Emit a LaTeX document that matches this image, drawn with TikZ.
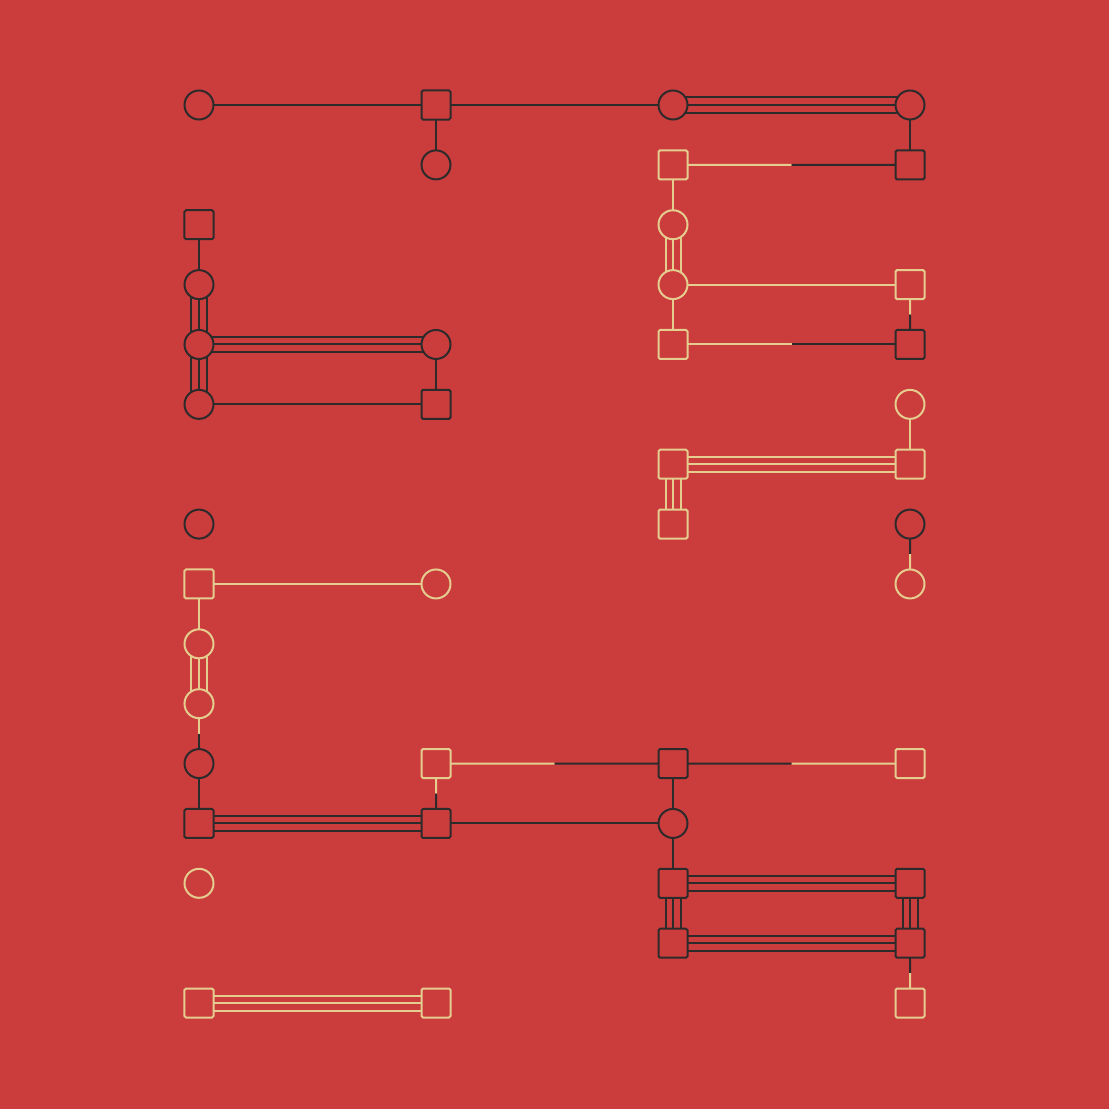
\documentclass[tikz,border=0pt]{standalone}
\usepackage{tikz}
\usetikzlibrary{calc}
\definecolor{bgred}{RGB}{203,61,61}
\definecolor{ink}{RGB}{45,42,43}
\definecolor{sand}{RGB}{229,204,143}
\pgfdeclarelayer{backdrop}
\pgfdeclarelayer{bonds}
\pgfsetlayers{backdrop,bonds,main}
\tikzset{
	dc/.style={circle,inner sep=0pt,minimum size=29bp,line width=2bp,draw=ink,fill=bgred,name=#1},
	sc/.style={circle,inner sep=0pt,minimum size=29bp,line width=2bp,draw=sand,fill=bgred,name=#1},
	ds/.style={rectangle,rounded corners=1.5bp,inner sep=0pt,minimum size=29bp,line width=2bp,draw=ink,fill=bgred,name=#1},
	ss/.style={rectangle,rounded corners=1.5bp,inner sep=0pt,minimum size=29bp,line width=2bp,draw=sand,fill=bgred,name=#1},
	dl/.style={draw=ink,line width=2bp},
	sl/.style={draw=sand,line width=2bp}
}
\newcommand{\mixbond}[4]{
	\draw [#1] (#3.center) -- ($(#3.center)!0.5!(#4.center)$);
	\draw [#2] ($(#3.center)!0.5!(#4.center)$) -- (#4.center);
}
\newcommand{\tribond}[3]{
	\draw [#1] (#2.center) -- (#3.center);
	\draw [#1] ($(#2.center)!7.5bp!90:(#3.center)$) -- ($(#3.center)!7.5bp!-90:(#2.center)$);
	\draw [#1] ($(#2.center)!7.5bp!-90:(#3.center)$) -- ($(#3.center)!7.5bp!90:(#2.center)$);
}
\begin{document}
\begin{tikzpicture}[x=237bp,y=-59.87bp]
	\begin{pgfonlayer}{backdrop}
		\fill [bgred] (-199bp,105bp) rectangle (910bp,-1004bp);
	\end{pgfonlayer}
	\useasboundingbox (-199bp,105bp) rectangle (910bp,-1004bp);

	\node [dc=a0] at (0,0) {};
	\node [ds=b0] at (1,0) {};
	\node [dc=c0] at (2,0) {};
	\node [dc=d0] at (3,0) {};
	\node [dc=b1] at (1,1) {};
	\node [ss=c1] at (2,1) {};
	\node [ds=d1] at (3,1) {};
	\node [ds=a2] at (0,2) {};
	\node [sc=c2] at (2,2) {};
	\node [dc=a3] at (0,3) {};
	\node [sc=c3] at (2,3) {};
	\node [ss=d3] at (3,3) {};
	\node [dc=a4] at (0,4) {};
	\node [dc=b4] at (1,4) {};
	\node [ss=c4] at (2,4) {};
	\node [ds=d4] at (3,4) {};
	\node [dc=a5] at (0,5) {};
	\node [ds=b5] at (1,5) {};
	\node [sc=d5] at (3,5) {};
	\node [ss=c6] at (2,6) {};
	\node [ss=d6] at (3,6) {};
	\node [dc=a7] at (0,7) {};
	\node [ss=c7] at (2,7) {};
	\node [dc=d7] at (3,7) {};
	\node [ss=a8] at (0,8) {};
	\node [sc=b8] at (1,8) {};
	\node [sc=d8] at (3,8) {};
	\node [sc=a9] at (0,9) {};
	\node [sc=a10] at (0,10) {};
	\node [dc=a11] at (0,11) {};
	\node [ss=b11] at (1,11) {};
	\node [ds=c11] at (2,11) {};
	\node [ss=d11] at (3,11) {};
	\node [ds=a12] at (0,12) {};
	\node [ds=b12] at (1,12) {};
	\node [dc=c12] at (2,12) {};
	\node [sc=a13] at (0,13) {};
	\node [ds=c13] at (2,13) {};
	\node [ds=d13] at (3,13) {};
	\node [ds=c14] at (2,14) {};
	\node [ds=d14] at (3,14) {};
	\node [ss=a15] at (0,15) {};
	\node [ss=b15] at (1,15) {};
	\node [ss=d15] at (3,15) {};

	\begin{pgfonlayer}{bonds}
		\draw [dl] (a0.center) -- (b0.center) -- (c0.center);
		\draw [dl] (b0.center) -- (b1.center);
		\tribond{dl}{c0}{d0}
		\draw [dl] (d0.center) -- (d1.center);
		\mixbond{sl}{dl}{c1}{d1}
		\draw [sl] (c1.center) -- (c2.center);
		\tribond{sl}{c2}{c3}
		\draw [sl] (c3.center) -- (d3.center);
		\draw [sl] (c3.center) -- (c4.center);
		\mixbond{sl}{dl}{d3}{d4}
		\mixbond{sl}{dl}{c4}{d4}
		\draw [dl] (a2.center) -- (a3.center);
		\tribond{dl}{a3}{a4}
		\tribond{dl}{a4}{a5}
		\tribond{dl}{a4}{b4}
		\draw [dl] (b4.center) -- (b5.center);
		\draw [dl] (a5.center) -- (b5.center);
		\draw [sl] (d5.center) -- (d6.center);
		\tribond{sl}{c6}{d6}
		\tribond{sl}{c6}{c7}
		\mixbond{dl}{sl}{d7}{d8}
		\draw [sl] (a8.center) -- (b8.center);
		\draw [sl] (a8.center) -- (a9.center);
		\tribond{sl}{a9}{a10}
		\mixbond{sl}{dl}{a10}{a11}
		\draw [dl] (a11.center) -- (a12.center);
		\tribond{dl}{a12}{b12}
		\mixbond{sl}{dl}{b11}{b12}
		\mixbond{sl}{dl}{b11}{c11}
		\mixbond{dl}{sl}{c11}{d11}
		\draw [dl] (c11.center) -- (c12.center) -- (c13.center);
		\draw [dl] (b12.center) -- (c12.center);
		\tribond{dl}{c13}{d13}
		\tribond{dl}{c13}{c14}
		\tribond{dl}{d13}{d14}
		\tribond{dl}{c14}{d14}
		\mixbond{dl}{sl}{d14}{d15}
		\tribond{sl}{a15}{b15}
	\end{pgfonlayer}
\end{tikzpicture}
\end{document}
